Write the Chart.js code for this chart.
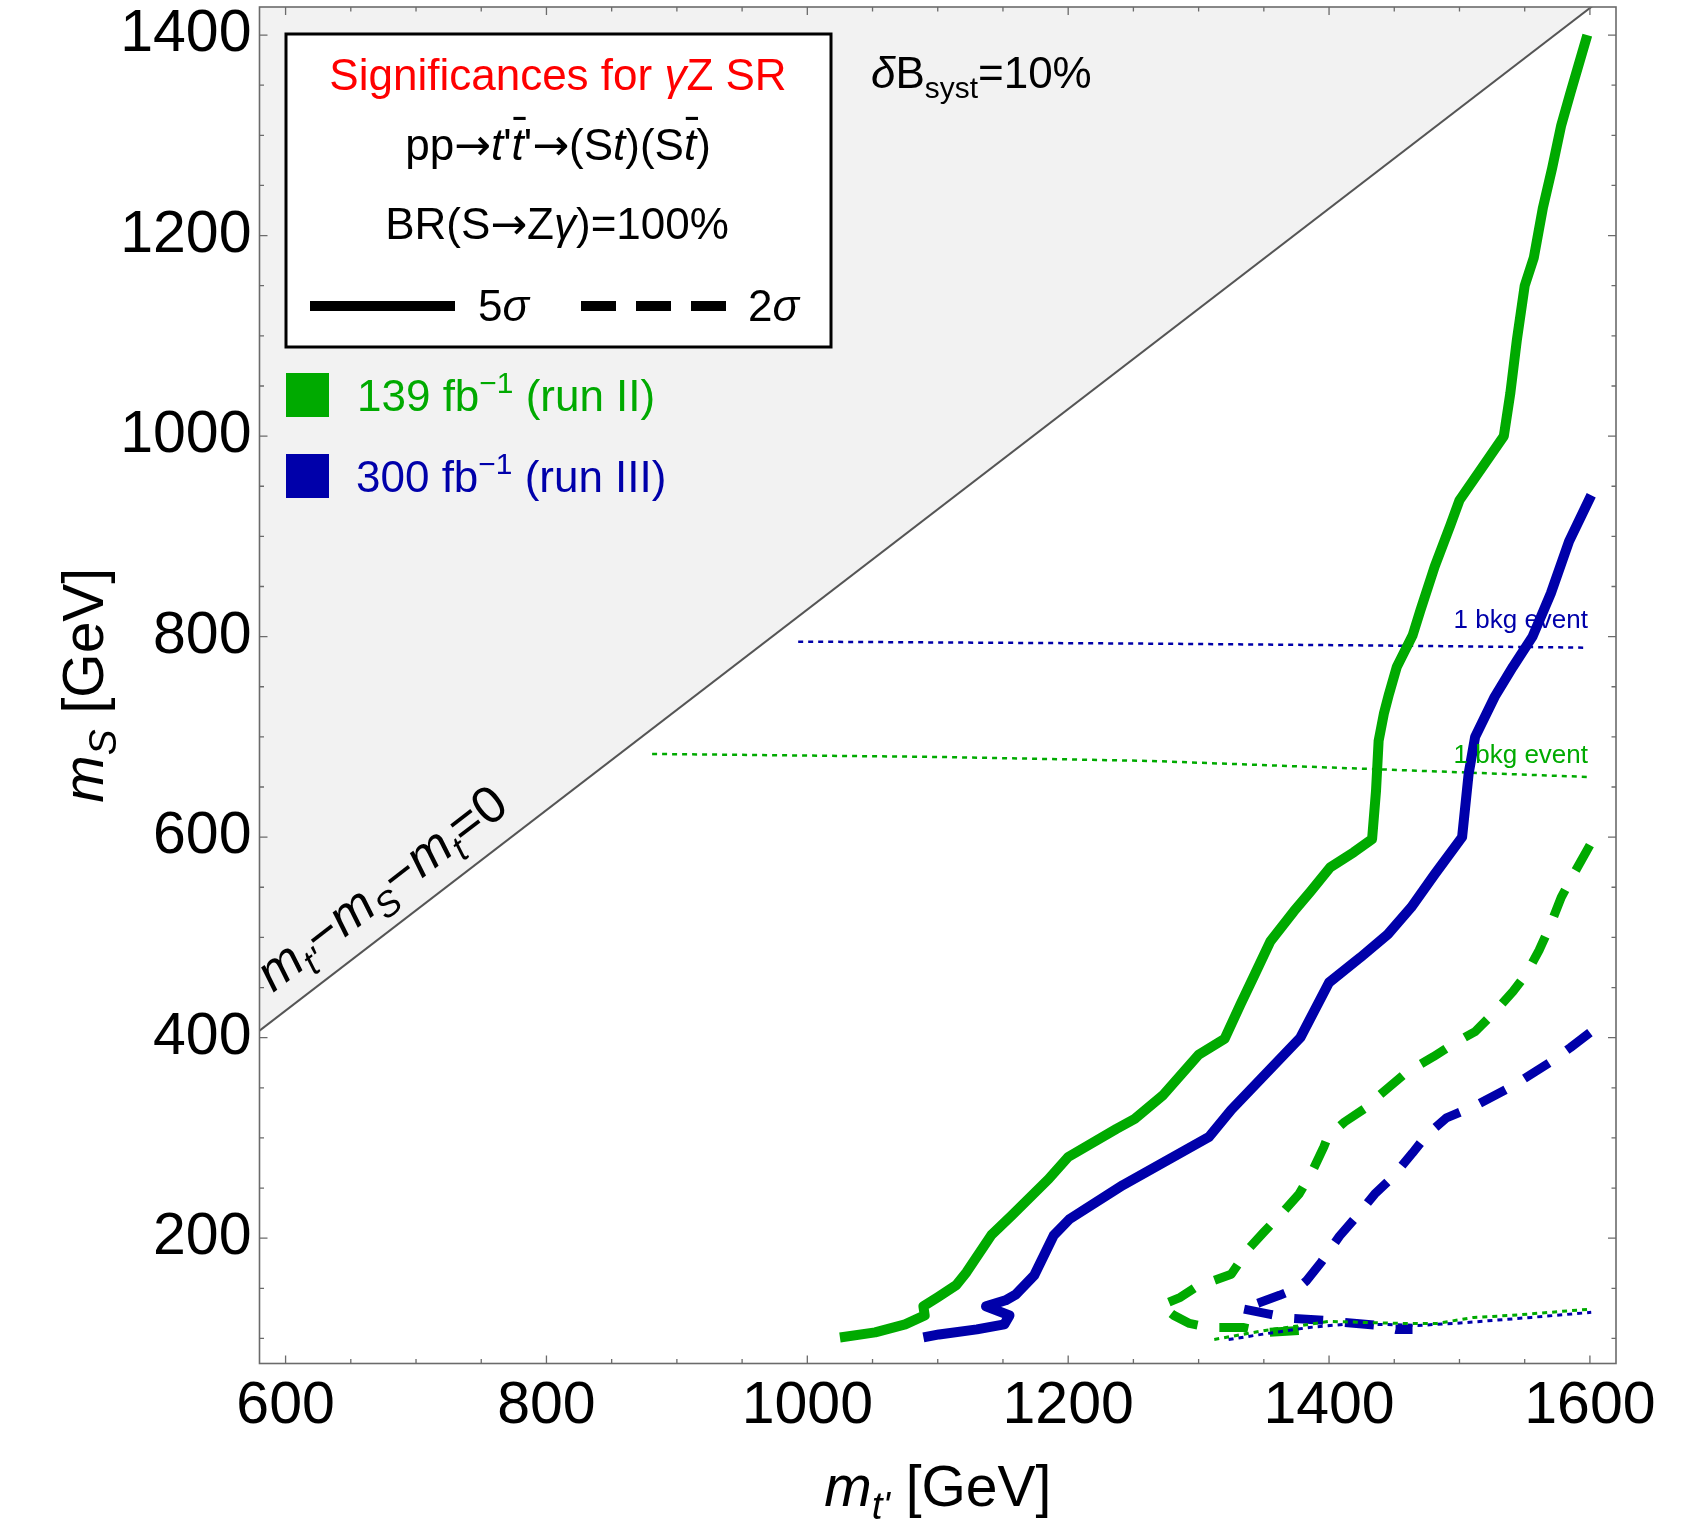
<!DOCTYPE html>
<html>
<head>
<meta charset="utf-8">
<script src="https://cdn.jsdelivr.net/npm/chart.js@4.4.0/dist/chart.umd.min.js"></script>
<style>
  html, body { margin: 0; padding: 0; background: #fff; }
</style>
</head>
<body>
<canvas id="plot" width="1687" height="1525"></canvas>
<script>
// axis ticks (labelled) and ranges
const xTicks = [600, 800, 1000, 1200, 1400, 1600];
const yTicks = [200, 400, 600, 800, 1000, 1200, 1400];
const xRange = [580, 1620];
const yRange = [75, 1428];

// kinematic boundary m_t' - m_S - m_t = 0
const mTop = 173;
const boundary = [[580, 580 - mTop], [1620, 1620 - mTop]];

// 5 sigma contours [m_t', m_S]
const green5 = [[1025,101],[1052,106],[1075,114],[1090,123],[1089,132],[1100,141],[1114,153],[1122,166],[1141,203],[1157,223],[1185,259],[1200,281],[1237,309],[1251,319],[1273,343],[1300,383],[1320,399],[1332,433],[1343,463],[1355,496],[1373,526],[1386,546],[1401,570],[1419,585],[1433,598],[1436,646],[1438,696],[1442,723],[1446,743],[1452,770],[1464,801],[1470,826],[1481,870],[1493,911],[1500,936],[1534,1000],[1539,1043],[1544,1096],[1550,1150],[1557,1178],[1564,1228],[1571,1267],[1578,1310],[1585,1342],[1598,1400]];
const blue5 = [[1089,101],[1101,104],[1130,109],[1151,114],[1155,123],[1137,132],[1152,138],[1160,144],[1174,163],[1189,203],[1201,219],[1242,253],[1308,301],[1325,328],[1378,400],[1400,455],[1424,480],[1445,503],[1463,530],[1481,563],[1502,600],[1507,663],[1512,700],[1527,740],[1541,770],[1556,800],[1570,843],[1584,895],[1601,941]];

// 2 sigma contours
const green2 = [[1600,592],[1587,562],[1578,540],[1569,510],[1561,487],[1551,463],[1541,446],[1525,423],[1512,406],[1498,396],[1480,381],[1460,366],[1439,343],[1427,329],[1412,316],[1399,301],[1396,291],[1388,269],[1377,244],[1366,228],[1350,206],[1338,189],[1325,164],[1308,156],[1300,153],[1286,141],[1271,133],[1281,123],[1293,115],[1308,111],[1334,111],[1352,106],[1379,108]];
const blue2 = [[1600,405],[1585,390],[1569,375],[1541,352],[1512,332],[1490,320],[1475,303],[1464,285],[1448,260],[1435,244],[1420,220],[1408,202],[1394,176],[1383,158],[1377,151],[1362,143],[1345,135],[1332,130],[1355,124],[1371,120],[1397,118],[1411,116],[1437,113],[1451,109],[1464,109]];

// 1 background event lines
const greenBkg = [[881,683],[1100,680],[1263,676],[1431,668],[1599,660]];
const blueBkg = [[993,795],[1263,793],[1450,791],[1596,789]];
const greenBkgLow = [[1312,99],[1351,108],[1379,113],[1400,117],[1425,116],[1454,115],[1483,115],[1511,121],[1540,123],[1569,126],[1598,129]];
const blueBkgLow = [[1323,99],[1353,105],[1385,111],[1411,114],[1440,114],[1468,113],[1497,115],[1526,118],[1555,121],[1601,126]];

const GREEN = '#00aa00';
const BLUE = '#0000aa';
const FONT = '"Liberation Sans", Arial, Helvetica, sans-serif';
const ARROW_FONT = '"DejaVu Sans", sans-serif';

function pts(arr) {
    return arr.map(p => ({ x: p[0], y: p[1] }));
}

function setFont(ctx, size, italic, family) {
    ctx.font = (italic ? 'italic ' : '') + size + 'px ' + (family || FONT);
}

// draws a line of text made of pieces (italic, sub, sup, overbar, other font)
function drawRich(ctx, segs, x, y, size, align, color) {
    let w = 0;
    const items = [];
    segs.forEach(s => {
        const fs = (s.sub || s.sup) ? size * 0.68 : size;
        setFont(ctx, fs, s.i, s.f);
        const sw = ctx.measureText(s.t).width;
        const dy = s.sub ? size * 0.22 : (s.sup ? -size * 0.4 : 0);
        items.push({ s, fs, x: w, w: sw, dy });
        w += sw;
    });
    let x0 = x;
    if (align === 'center') x0 = x - w / 2;
    if (align === 'right') x0 = x - w;
    ctx.textAlign = 'left';
    ctx.textBaseline = 'alphabetic';
    items.forEach(it => {
        setFont(ctx, it.fs, it.s.i, it.s.f);
        ctx.fillStyle = it.s.c || color;
        ctx.fillText(it.s.t, x0 + it.x, y + it.dy);
        if (it.s.bar) {
            ctx.fillRect(x0 + it.x + it.w * 0.15, y - size * 0.98, it.w * 1.0, size * 0.07);
        }
    });
}

const ARROW = { t: '→', f: ARROW_FONT };

const framePlugin = {
    id: 'frame',
    afterDatasetsDraw(chart) {
        const { ctx, chartArea: a, scales } = chart;
        const sx = scales.x, sy = scales.y;
        ctx.save();
        ctx.strokeStyle = '#6b6b6b';
        ctx.lineWidth = 1.6;
        ctx.strokeRect(a.left, a.top, a.right - a.left, a.bottom - a.top);
        ctx.lineWidth = 1.3;
        ctx.beginPath();
        for (let v = 600; v <= 1600; v += 50) {
            const px = sx.getPixelForValue(v);
            const len = v % 200 === 0 ? 8 : 4.5;
            ctx.moveTo(px, a.bottom); ctx.lineTo(px, a.bottom - len);
            ctx.moveTo(px, a.top); ctx.lineTo(px, a.top + len);
        }
        for (let v = 100; v <= 1400; v += 50) {
            const py = sy.getPixelForValue(v);
            const len = v % 200 === 0 ? 8 : 4.5;
            ctx.moveTo(a.left, py); ctx.lineTo(a.left + len, py);
            ctx.moveTo(a.right, py); ctx.lineTo(a.right - len, py);
        }
        ctx.stroke();
        ctx.restore();
    },
    afterDraw(chart) {
        const { ctx, chartArea: a } = chart;
        ctx.save();

        // legend box
        ctx.fillStyle = '#fff';
        ctx.fillRect(286, 34, 545, 313);
        ctx.strokeStyle = '#000';
        ctx.lineWidth = 3;
        ctx.strokeRect(286, 34, 545, 313);

        drawRich(ctx, [{ t: 'Significances for ' }, { t: 'γ', i: 1 }, { t: 'Z SR' }], 558, 90, 44, 'center', '#ff0000');
        drawRich(ctx, [{ t: 'pp' }, ARROW, { t: 't', i: 1 }, { t: "'" }, { t: 't', i: 1, bar: 1 }, { t: "'" },
            ARROW, { t: '(S' }, { t: 't', i: 1 }, { t: ')(S' }, { t: 't', i: 1, bar: 1 }, { t: ')' }], 558, 160, 44, 'center', '#000');
        drawRich(ctx, [{ t: 'BR(S' }, ARROW, { t: 'Z' }, { t: 'γ', i: 1 }, { t: ')=100%' }], 557, 239, 44, 'center', '#000');

        ctx.strokeStyle = '#000';
        ctx.lineWidth = 10;
        ctx.lineCap = 'butt';
        ctx.beginPath(); ctx.moveTo(310, 306); ctx.lineTo(455, 306); ctx.stroke();
        ctx.setLineDash([35, 20]);
        ctx.beginPath(); ctx.moveTo(581, 306); ctx.lineTo(726, 306); ctx.stroke();
        ctx.setLineDash([]);
        drawRich(ctx, [{ t: '5' }, { t: 'σ', i: 1 }], 478, 321, 44, 'left', '#000');
        drawRich(ctx, [{ t: '2' }, { t: 'σ', i: 1 }], 748, 321, 44, 'left', '#000');

        drawRich(ctx, [{ t: 'δ', i: 1 }, { t: 'B' }, { t: 'syst', sub: 1 }, { t: '=10%' }], 871, 88, 44, 'left', '#000');

        ctx.fillStyle = GREEN;
        ctx.fillRect(286, 373, 43, 44);
        drawRich(ctx, [{ t: '139 fb' }, { t: '−1', sup: 1 }, { t: ' (run II)' }], 357, 411, 44, 'left', GREEN);
        ctx.fillStyle = BLUE;
        ctx.fillRect(286, 454, 43, 44);
        drawRich(ctx, [{ t: '300 fb' }, { t: '−1', sup: 1 }, { t: ' (run III)' }], 356, 492, 44, 'left', BLUE);

        // 1 bkg event labels
        drawRich(ctx, [{ t: '1 bkg event' }], 1588, 628, 26, 'right', BLUE);
        drawRich(ctx, [{ t: '1 bkg event' }], 1588, 763, 26, 'right', GREEN);

        // label along the boundary
        const ang = Math.atan2(chart.scales.y.getPixelForValue(1000) - chart.scales.y.getPixelForValue(1100),
            chart.scales.x.getPixelForValue(1100) - chart.scales.x.getPixelForValue(1000));
        ctx.save();
        ctx.translate(273, 993);
        ctx.rotate(-ang);
        drawRich(ctx, [{ t: 'm', i: 1 }, { t: "t'", i: 1, sub: 1 }, { t: '−' }, { t: 'm', i: 1 }, { t: 'S', i: 1, sub: 1 },
            { t: '−' }, { t: 'm', i: 1 }, { t: 't', i: 1, sub: 1 }, { t: '=0' }], 0, 0, 52, 'left', '#000');
        ctx.restore();

        // axis titles
        drawRich(ctx, [{ t: 'm', i: 1 }, { t: "t'", i: 1, sub: 1 }, { t: ' [GeV]' }], (a.left + a.right) / 2, 1506, 57, 'center', '#000');
        ctx.save();
        ctx.translate(103, (a.top + a.bottom) / 2);
        ctx.rotate(-Math.PI / 2);
        drawRich(ctx, [{ t: 'm', i: 1 }, { t: 'S', i: 1, sub: 1 }, { t: ' [GeV]' }], 0, 0, 57, 'center', '#000');
        ctx.restore();

        ctx.restore();
    }
};

function lineSet(data, color, width, dash, order) {
    return {
        data: pts(data),
        showLine: true,
        borderColor: color,
        borderWidth: width,
        borderDash: dash,
        borderCapStyle: 'butt',
        borderJoinStyle: 'round',
        pointRadius: 0,
        fill: false,
        tension: 0,
        order: order
    };
}

const chart = new Chart(document.getElementById('plot'), {
    type: 'scatter',
    data: {
        datasets: [
            {
                data: pts(boundary),
                showLine: true,
                borderColor: '#555555',
                borderWidth: 2,
                backgroundColor: '#f2f2f2',
                fill: 'end',
                pointRadius: 0,
                order: 10
            },
            lineSet(greenBkg, GREEN, 2.5, [5, 5], 5),
            lineSet(blueBkg, BLUE, 2.5, [5, 5], 5),
            lineSet(green5, GREEN, 10, [], 3),
            lineSet(blue5, BLUE, 10, [], 3),
            lineSet(green2, GREEN, 9, [29, 22], 3),
            lineSet(blue2, BLUE, 9, [29, 22], 3),
            lineSet(greenBkgLow, GREEN, 3, [5, 5], 1),
            lineSet(blueBkgLow, BLUE, 3, [5, 5], 1)
        ]
    },
    options: {
        responsive: false,
        animation: false,
        events: [],
        layout: { padding: { top: 7, right: 71, left: 0, bottom: 0 } },
        plugins: {
            legend: { display: false },
            tooltip: { enabled: false }
        },
        scales: {
            x: {
                type: 'linear',
                min: xRange[0],
                max: xRange[1],
                afterBuildTicks: s => { s.ticks = xTicks.map(v => ({ value: v })); },
                afterFit: s => { s.height = 161.5; s.paddingLeft = 0; s.paddingRight = 0; s.paddingTop = 0; s.paddingBottom = 0; },
                grid: { display: false, drawTicks: false },
                border: { display: false },
                ticks: {
                    color: '#000',
                    padding: 8,
                    maxRotation: 0,
                    autoSkip: false,
                    font: { family: FONT, size: 59 },
                    callback: v => String(v)
                }
            },
            y: {
                type: 'linear',
                min: yRange[0],
                max: yRange[1],
                afterBuildTicks: s => { s.ticks = yTicks.map(v => ({ value: v })); },
                afterFit: s => { s.width = 259.5; s.paddingLeft = 0; s.paddingRight = 0; s.paddingTop = 0; s.paddingBottom = 0; },
                grid: { display: false, drawTicks: false },
                border: { display: false },
                ticks: {
                    color: '#000',
                    padding: 8,
                    autoSkip: false,
                    font: { family: FONT, size: 59 },
                    callback: v => String(v)
                }
            }
        }
    },
    plugins: [framePlugin]
});
</script>
</body>
</html>
